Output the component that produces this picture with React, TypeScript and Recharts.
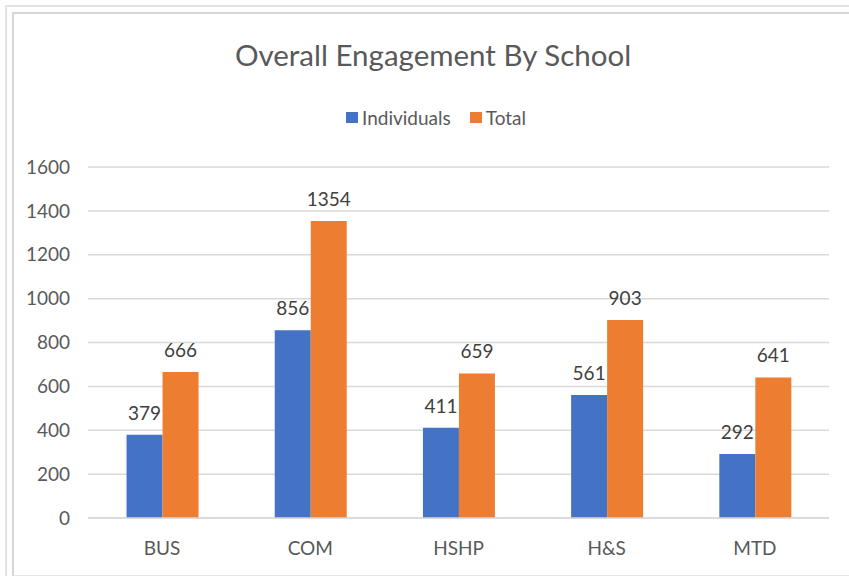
import React from "react";
import { BarChart, Bar, XAxis, YAxis, CartesianGrid, LabelList } from "recharts";

const categories = ["BUS", "COM", "HSHP", "H&S", "MTD"];
const individuals = [379, 856, 411, 561, 292];
const totals = [666, 1354, 659, 903, 641];
const yTicks = [0, 200, 400, 600, 800, 1000, 1200, 1400, 1600];
const seriesNames = ["Individuals", "Total"];
const seriesColors = ["#4472C4", "#ED7D31"];

const data = categories.map((c, i) => ({ name: c, Individuals: individuals[i], Total: totals[i] }));

const FONT = "Lato, 'Open Sans', sans-serif";

const LegendBox = () => (
  <div style={{ position: "absolute", left: 346, top: 106, display: "flex", alignItems: "center", fontFamily: FONT, fontSize: 19, color: "#595959" }}>
    {seriesNames.map((n, i) => (
      <div key={n} style={{ display: "flex", alignItems: "center", marginRight: i === 0 ? 19 : 0 }}>
        <span style={{ display: "inline-block", width: 12, height: 11, background: seriesColors[i], marginRight: 4 }} />
        <span>{n}</span>
      </div>
    ))}
  </div>
);

export default function App() {
  return (
    <div style={{ position: "absolute", left: 0, top: 0, width: 849, height: 576, background: "#fff", overflow: "hidden" }}>
      <div style={{ position: "absolute", left: 5, top: 5, width: 900, height: 700, borderLeft: "2px solid #e3e3e3", borderTop: "2px solid #e3e3e3" }} />
      <div style={{ position: "absolute", left: 12, top: 12, width: 900, height: 561, borderLeft: "2px solid #d6d6d6", borderTop: "2px solid #d6d6d6", borderBottom: "2px solid #e6e6e6" }} />
      <div style={{ position: "absolute", left: 0, width: 866, top: 37, textAlign: "center", fontFamily: FONT, fontSize: 29.5, color: "#595959" }}>
        Overall Engagement By School
      </div>
      <div style={{ position: "absolute", left: 0, top: 0 }}>
        <BarChart width={849} height={576} data={data} margin={{ top: 167, right: 20, bottom: 28, left: 8 }} barCategoryGap="26%" barGap={0}>
          <CartesianGrid vertical={false} stroke="#d9d9d9" strokeWidth={1.5} />
          <XAxis dataKey="name" axisLine={{ stroke: "#d9d9d9", strokeWidth: 1.5 }} tickLine={false} tickSize={0} tickMargin={24} height={30} tick={{ fill: "#595959", fontSize: 19, fontFamily: FONT }} />
          <YAxis domain={[0, 1600]} ticks={yTicks} width={80} axisLine={false} tickLine={false} tickSize={0} tickMargin={18} tick={{ fill: "#595959", fontSize: 19, fontFamily: FONT }} />
          <Bar dataKey="Individuals" fill={seriesColors[0]} isAnimationActive={false}>
            <LabelList dataKey="Individuals" position="top" offset={15} style={{ fill: "#404040", fontSize: 19, fontFamily: FONT }} />
          </Bar>
          <Bar dataKey="Total" fill={seriesColors[1]} isAnimationActive={false}>
            <LabelList dataKey="Total" position="top" offset={15} style={{ fill: "#404040", fontSize: 19, fontFamily: FONT }} />
          </Bar>
        </BarChart>
      </div>
      <LegendBox />
    </div>
  );
}
